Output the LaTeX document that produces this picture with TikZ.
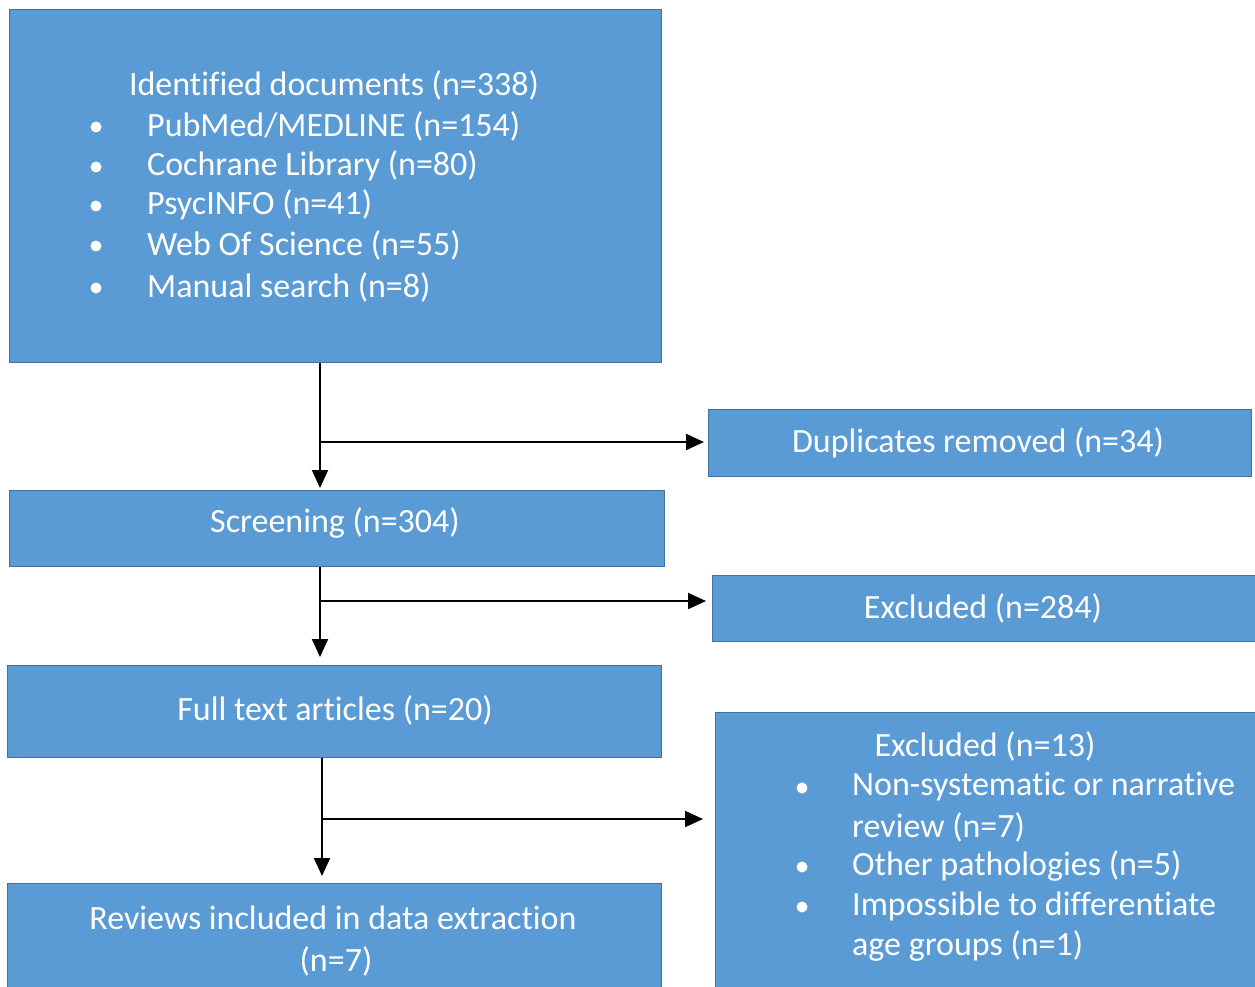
\documentclass[tikz,border=0pt]{standalone}
\usepackage{fontspec}
\setmainfont[Ligatures=NoCommon]{Carlito}
\usetikzlibrary{arrows.meta}
\definecolor{boxfill}{HTML}{5B9BD5}
\definecolor{boxline}{HTML}{41719C}
\begin{document}
\begin{tikzpicture}[x=1pt,y=-1pt,
 box/.style={draw=boxline,fill=boxfill,line width=1.2pt,inner sep=0pt,anchor=north west},
 txt/.style={text=white,font=\fontsize{34}{40}\selectfont,inner sep=0pt},
 itm/.style={txt,anchor=west},
 bul/.style={circle,fill=white,minimum size=11pt,inner sep=0pt},
 arr/.style={draw=black,line width=2pt,-{Triangle[length=18pt,width=16pt]}}]
\useasboundingbox (0,0) rectangle (1255,986);
\clip (0,0) rectangle (1255,986);
% boxes
\node[box,minimum width=652pt,minimum height=353pt] (top) at (9,9) {};
\node[box,minimum width=543pt,minimum height=67pt] (dup) at (708,409) {};
\node[box,minimum width=655pt,minimum height=76pt] (scr) at (9,490) {};
\node[box,minimum width=550pt,minimum height=66pt] (ex1) at (712,575) {};
\node[box,minimum width=654pt,minimum height=92pt] (full) at (7,665) {};
\node[box,minimum width=560pt,minimum height=290pt] (ex2) at (715,712) {};
\node[box,minimum width=654pt,minimum height=120pt] (rev) at (7,883) {};
% texts
\node[txt] (t0) at (334,85) {Identified documents (n=338)};
\node[bul] (b1) at (96,127) {};
\node[bul] (b2) at (96,167) {};
\node[bul] (b3) at (96,206) {};
\node[bul] (b4) at (96,246) {};
\node[bul] (b5) at (96,288) {};
\node[itm] (i1) at (147,126) {PubMed/MEDLINE (n=154)};
\node[itm] (i2) at (147,166) {Cochrane Library (n=80)};
\node[itm] (i3) at (147,205) {PsycINFO (n=41)};
\node[itm] (i4) at (147,245) {Web Of Science (n=55)};
\node[itm] (i5) at (147,287) {Manual search (n=8)};
\node[txt] (tdup) at (978,443) {Duplicates removed (n=34)};
\node[txt] (tscr) at (335,523) {Screening (n=304)};
\node[txt] (tex1) at (983,608) {Excluded (n=284)};
\node[txt] (tfull) at (335,710) {Full text articles (n=20)};
\node[txt] (tex2) at (985,746) {Excluded (n=13)};
\node[bul] (c1) at (802,788) {};
\node[bul] (c2) at (802,867) {};
\node[bul] (c3) at (802,907) {};
\node[itm] (j1) at (852,787) {Non-systematic or narrative};
\node[itm] (j2) at (852,827) {review (n=7)};
\node[itm] (j3) at (852,866) {Other pathologies (n=5)};
\node[itm] (j4) at (852,906) {Impossible to differentiate};
\node[itm] (j5) at (852,946) {age groups (n=1)};
\node[txt] (trev) at (333,918) {Reviews included in data extraction};
\node[txt] (trev2) at (336,961) {(n=7)};
% connectors
\coordinate (k1) at (320,442);
\coordinate (k2) at (320,601);
\coordinate (k3) at (322,819);
\draw[arr] (top.south -| k1) -- ([yshift=2pt]scr.north -| k1);
\draw[arr] (k1) -- ([xshift=-4pt]dup.west |- k1);
\draw[arr] (scr.south -| k2) -- ([yshift=8pt]full.north -| k2);
\draw[arr] (k2) -- ([xshift=-6pt]ex1.west |- k2);
\draw[arr] (full.south -| k3) -- ([yshift=7pt]rev.north -| k3);
\draw[arr] (k3) -- ([xshift=-12pt]ex2.west |- k3);
\end{tikzpicture}
\end{document}
